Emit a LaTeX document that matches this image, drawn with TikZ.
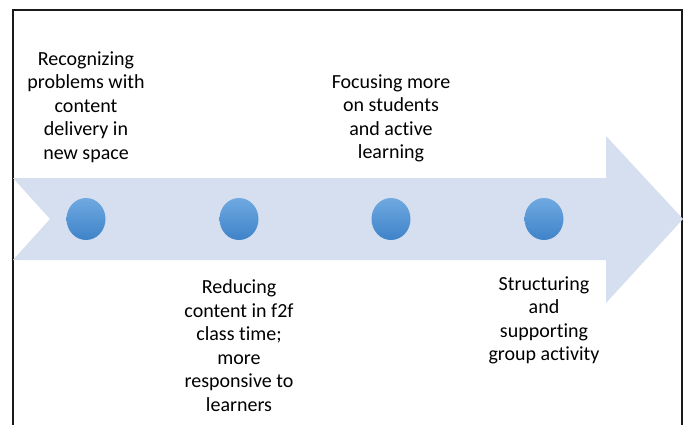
\documentclass[tikz,border=0pt]{standalone}
\usepackage{fontspec}
\setmainfont{Carlito}[Ligatures=NoCommon]
\usetikzlibrary{shapes.geometric}
\definecolor{arrowfill}{HTML}{D5DFEF}
\definecolor{dottop}{HTML}{70A9E1}
\definecolor{dotbot}{HTML}{3E83C8}
\definecolor{framecol}{HTML}{1A1A1A}
\tikzset{
  dot/.style={ellipse, minimum width=39pt, minimum height=42pt, inner sep=0pt,
    top color=dottop, bottom color=dotbot, draw=none},
  lbl/.style={align=center, font=\fontsize{20pt}{23.5pt}\selectfont, inner sep=0pt, text=black},
}
\begin{document}
\begin{tikzpicture}[x=1pt,y=1pt]
\useasboundingbox (0,0) rectangle (686,424);
\draw[framecol, line width=1.2pt] (13,-2) -- (13,414) -- (682,414) -- (682,-2);
\fill[arrowfill] (13,246) -- (606,246) -- (606,288) -- (683,205) -- (606,121) -- (606,164) -- (13,164) -- (50,205) -- cycle;
\node[dot] (c1) at (86,205) {};
\node[dot] (c2) at (239,205) {};
\node[dot] (c3) at (391,205) {};
\node[dot] (c4) at (544,205) {};
\node[lbl] (t1) at (86,317) {Recognizing\\problems with\\content\\delivery in\\new space};
\node[lbl] (t2) at (239,78.5) {Reducing\\content in f2f\\class time;\\more\\responsive to\\learners};
\node[lbl] (t3) at (391,305.5) {Focusing more\\on students\\and active\\learning};
\node[lbl] (t4) at (544,103.5) {Structuring\\and\\supporting\\group activity};
\end{tikzpicture}
\end{document}
